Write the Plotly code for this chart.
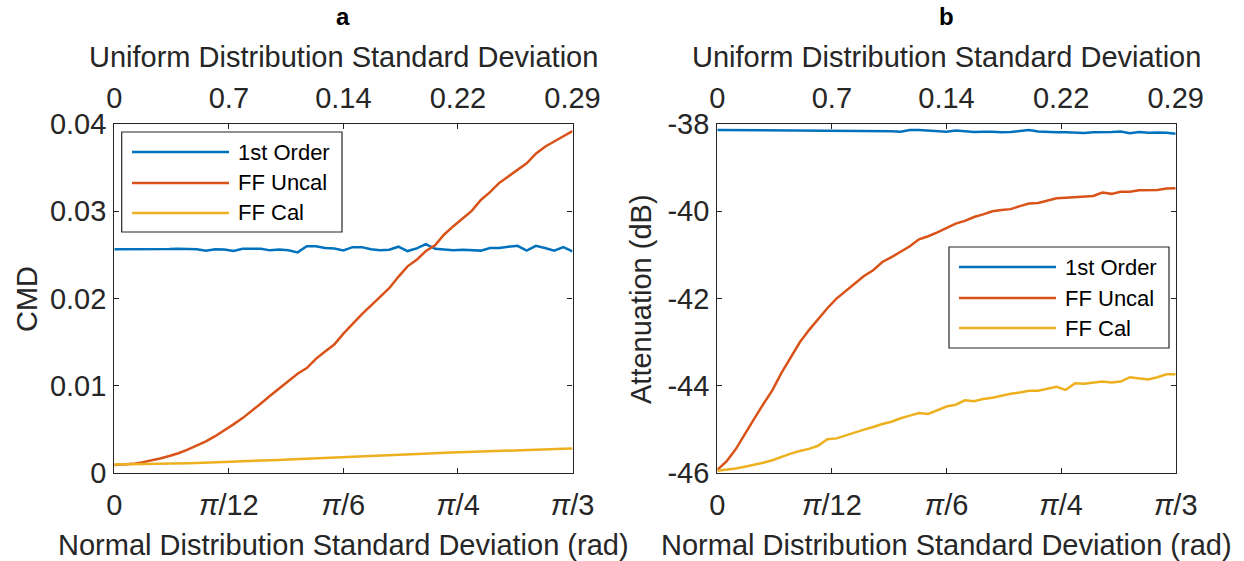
import math
import plotly.graph_objects as go

# Sampling grid: normal-distribution standard deviation from 0 to pi/3 rad
N_POINTS = 51
X_MAX = math.pi / 3
sigma = [X_MAX * i / (N_POINTS - 1) for i in range(N_POINTS)]

# Panel a: CMD
cmd_first_order = [
    0.02565, 0.02565, 0.02563, 0.02563, 0.02562, 0.02565, 0.02568, 0.02572, 0.02570, 0.02565,
    0.02548, 0.02565, 0.02563, 0.02545, 0.02572, 0.02568, 0.02572, 0.02553, 0.02562, 0.02555,
    0.02530, 0.02600, 0.02600, 0.02580, 0.02575, 0.02552, 0.02590, 0.02590, 0.02565, 0.02555,
    0.02560, 0.02595, 0.02545, 0.02575, 0.02625, 0.02570, 0.02560, 0.02555, 0.02560, 0.02555,
    0.02550, 0.02580, 0.02580, 0.02595, 0.02605, 0.02550, 0.02605, 0.02580, 0.02550, 0.02590,
    0.02540,
]
cmd_ff_uncal = [
    0.00095, 0.00100, 0.00108, 0.00125, 0.00145, 0.00170, 0.00198, 0.00230, 0.00272, 0.00315,
    0.00365, 0.00425, 0.00490, 0.00560, 0.00632, 0.00712, 0.00800, 0.00888, 0.00975, 0.01060,
    0.01140, 0.01205, 0.01310, 0.01395, 0.01475, 0.01600, 0.01715, 0.01820, 0.01920, 0.02015,
    0.02120, 0.02250, 0.02370, 0.02445, 0.02545, 0.02610, 0.02735, 0.02830, 0.02920, 0.03005,
    0.03130, 0.03220, 0.03325, 0.03400, 0.03475, 0.03550, 0.03660, 0.03740, 0.03800, 0.03860,
    0.03920,
]
cmd_ff_cal = [
    0.00100, 0.00101, 0.00102, 0.00104, 0.00106, 0.00108, 0.00110, 0.00113, 0.00116, 0.00119,
    0.00122, 0.00126, 0.00129, 0.00133, 0.00137, 0.00140, 0.00145, 0.00149, 0.00153, 0.00158,
    0.00163, 0.00168, 0.00173, 0.00177, 0.00183, 0.00190, 0.00193, 0.00198, 0.00202, 0.00206,
    0.00212, 0.00215, 0.00220, 0.00224, 0.00228, 0.00231, 0.00235, 0.00238, 0.00240, 0.00248,
    0.00250, 0.00253, 0.00257, 0.00260, 0.00263, 0.00265, 0.00268, 0.00270, 0.00273, 0.00280,
    0.00285,
]

# Panel b: attenuation (dB)
att_first_order = [
    -38.137, -38.138, -38.140, -38.140, -38.138, -38.136, -38.135, -38.136, -38.140, -38.145,
    -38.155, -38.150, -38.148, -38.150, -38.152, -38.148, -38.150, -38.160, -38.158, -38.165,
    -38.175, -38.140, -38.140, -38.150, -38.165, -38.180, -38.150, -38.170, -38.185, -38.180,
    -38.175, -38.190, -38.185, -38.160, -38.140, -38.170, -38.185, -38.190, -38.190, -38.200,
    -38.205, -38.190, -38.190, -38.185, -38.170, -38.210, -38.185, -38.200, -38.195, -38.200,
    -38.225,
]
att_ff_uncal = [
    -45.92, -45.73, -45.45, -45.12, -44.76, -44.42, -44.10, -43.70, -43.35, -43.00,
    -42.72, -42.46, -42.22, -42.00, -41.82, -41.65, -41.48, -41.35, -41.16, -41.05,
    -40.93, -40.80, -40.64, -40.57, -40.48, -40.38, -40.28, -40.22, -40.13, -40.07,
    -40.00, -39.97, -39.95, -39.88, -39.82, -39.81, -39.76, -39.70, -39.69, -39.68,
    -39.66, -39.65, -39.57, -39.60, -39.55, -39.55, -39.52, -39.52, -39.51, -39.48,
    -39.47,
]
att_ff_cal = [
    -45.94, -45.92, -45.89, -45.85, -45.81, -45.76, -45.70, -45.62, -45.55, -45.49,
    -45.44, -45.37, -45.22, -45.20, -45.13, -45.07, -45.00, -44.94, -44.87, -44.82,
    -44.74, -44.68, -44.62, -44.64, -44.56, -44.47, -44.43, -44.33, -44.35, -44.30,
    -44.27, -44.22, -44.18, -44.15, -44.11, -44.11, -44.07, -44.02, -44.09, -43.94,
    -43.95, -43.93, -43.90, -43.92, -43.90, -43.80, -43.83, -43.85, -43.80, -43.73,
    -43.73,
]

series_names = ["1st Order", "FF Uncal", "FF Cal"]
series_colors = ["#0072BD", "#D95319", "#EDB120"]

# Shared tick positions for the bottom (rad) and top (uniform std) axes
x_tickvals = [0, math.pi / 12, math.pi / 6, math.pi / 4, math.pi / 3]
x_ticktext_bottom = ["0", "<i>π</i>/12", "<i>π</i>/6", "<i>π</i>/4", "<i>π</i>/3"]
x_ticktext_top = ["0", "0.7", "0.14", "0.22", "0.29"]

cmd_ticks = [0, 0.01, 0.02, 0.03, 0.04]
cmd_ticktext = ["0", "0.01", "0.02", "0.03", "0.04"]
att_ticks = [-46, -44, -42, -40, -38]
att_ticktext = ["-46", "-44", "-42", "-40", "-38"]

W, H = 1244, 561
FONT = "Liberation Sans, Arial, Helvetica, sans-serif"
INK = "#262626"
AXIS_FONT_SIZE = 29
LEGEND_FONT_SIZE = 22


def px(x):
    return x / W


def py(y):
    return 1 - y / H


left_dom = [px(114.3), px(572.5)]
right_dom = [px(717.3), px(1175.7)]
y_dom = [py(473.3), py(124.0)]

fig = go.Figure()

panels = [
    ("x", "y", [cmd_first_order, cmd_ff_uncal, cmd_ff_cal]),
    ("x2", "y2", [att_first_order, att_ff_uncal, att_ff_cal]),
]
for xa, ya, ys in panels:
    for name, color, vals in zip(series_names, series_colors, ys):
        fig.add_trace(go.Scatter(
            x=sigma, y=vals, mode="lines", name=name,
            line=dict(color=color, width=2.5),
            xaxis=xa, yaxis=ya, showlegend=False, hoverinfo="skip",
        ))

tick_font = dict(family=FONT, size=AXIS_FONT_SIZE, color=INK)

bottom_axis = dict(
    range=[0, X_MAX], tickvals=x_tickvals, ticktext=x_ticktext_bottom,
    ticks="inside", ticklen=5, tickwidth=1.2, tickcolor=INK,
    showline=True, linecolor=INK, linewidth=1.3, mirror="ticks",
    showgrid=False, zeroline=False, tickfont=tick_font,
    ticklabelstandoff=6, fixedrange=True, automargin=False,
)
top_axis = dict(
    range=[0, X_MAX], tickvals=x_tickvals, ticktext=x_ticktext_top,
    side="top", ticks="", showline=False, showgrid=False, zeroline=False,
    tickfont=tick_font, ticklabelstandoff=9, fixedrange=True, automargin=False,
)
left_axis = dict(
    ticks="inside", ticklen=5, tickwidth=1.2, tickcolor=INK,
    showline=True, linecolor=INK, linewidth=1.3, mirror="ticks",
    showgrid=False, zeroline=False, tickfont=tick_font,
    ticklabelstandoff=1, fixedrange=True, automargin=False,
)

fig.update_layout(
    width=W, height=H, autosize=False,
    margin=dict(l=0, r=0, t=0, b=0, pad=0, autoexpand=False),
    paper_bgcolor="white", plot_bgcolor="white",
    font=dict(family=FONT, color=INK),
    showlegend=False,
    xaxis=dict(domain=left_dom, anchor="y", **bottom_axis),
    yaxis=dict(domain=y_dom, anchor="x", range=[0, 0.04],
               tickvals=cmd_ticks, ticktext=cmd_ticktext, **left_axis),
    xaxis3=dict(overlaying="x", anchor="y", **top_axis),
    xaxis2=dict(domain=right_dom, anchor="y2", **bottom_axis),
    yaxis2=dict(domain=y_dom, anchor="x2", range=[-46, -38],
                tickvals=att_ticks, ticktext=att_ticktext, **left_axis),
    xaxis4=dict(overlaying="x2", anchor="y2", **top_axis),
)

# Empty traces so the top axes are registered
fig.add_trace(go.Scatter(x=[], y=[], xaxis="x3", yaxis="y", showlegend=False))
fig.add_trace(go.Scatter(x=[], y=[], xaxis="x4", yaxis="y2", showlegend=False))

annotations = []
shapes = []


def text(x, y, s, size=AXIS_FONT_SIZE, bold=False, angle=0, xanchor="center"):
    annotations.append(dict(
        x=px(x), y=py(y), xref="paper", yref="paper", text=f"<b>{s}</b>" if bold else s,
        showarrow=False, xanchor=xanchor, yanchor="middle", textangle=angle,
        font=dict(family=FONT, size=size, color="#000000" if bold else INK),
    ))


for cx, label, ytitle, ytx in [(343.4, "a", "CMD", 27), (946.5, "b", "Attenuation (dB)", 641)]:
    text(cx, 17, label, size=24, bold=True)
    text(cx, 57, "Uniform Distribution Standard Deviation")
    text(cx, 545, "Normal Distribution Standard Deviation (rad)")
    text(ytx, 299, ytitle, angle=-90)


def legend_box(x0, y0, x1, y1, line_x0, line_x1, rows, text_x):
    shapes.append(dict(type="rect", xref="paper", yref="paper",
                       x0=px(x0), x1=px(x1), y0=py(y1), y1=py(y0),
                       line=dict(color=INK, width=1.2), fillcolor="white", layer="above"))
    for name, color, ry in zip(series_names, series_colors, rows):
        shapes.append(dict(type="line", xref="paper", yref="paper",
                           x0=px(line_x0), x1=px(line_x1), y0=py(ry), y1=py(ry),
                           line=dict(color=color, width=2.5), layer="above"))
        annotations.append(dict(
            x=px(text_x), y=py(ry), xref="paper", yref="paper", text=name,
            showarrow=False, xanchor="left", yanchor="middle",
            font=dict(family=FONT, size=LEGEND_FONT_SIZE, color="#000000"),
        ))


legend_box(121.7, 132.0, 342.0, 232.0, 132, 229, [152, 183, 213], 236)
legend_box(949.0, 247.0, 1169.0, 348.0, 959, 1056, [267, 298, 328], 1063)

fig.update_layout(annotations=annotations, shapes=shapes)

fig.write_html("out.html")
